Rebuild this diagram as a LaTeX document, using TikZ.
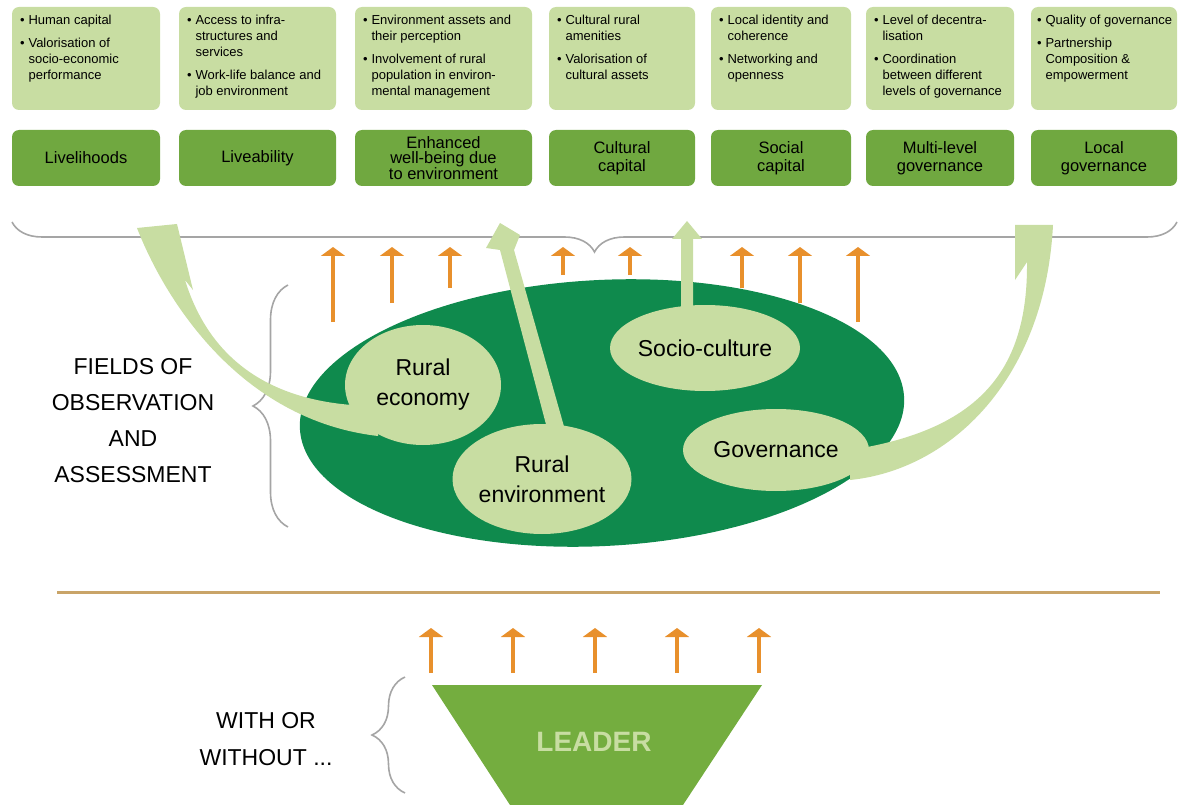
\documentclass[tikz,border=0pt]{standalone}
\usepackage{fontspec}
\setmainfont{Liberation Sans}
\usepackage{tikz}
\usetikzlibrary{arrows.meta,shapes.geometric,decorations.pathreplacing}

\definecolor{palegreen}{HTML}{C8DDA2}
\definecolor{midgreen}{HTML}{70A840}
\definecolor{darkgreen}{HTML}{0F8A4D}
\definecolor{leadergreen}{HTML}{74AD3F}
\definecolor{arroworange}{HTML}{E8902C}
\definecolor{bracegray}{HTML}{A5A5A5}
\definecolor{linetan}{HTML}{C9A468}

\newcommand{\bul}{\textbullet}

\begin{document}
\begin{tikzpicture}[x=1pt, y=-1pt,
    every node/.style={inner sep=0pt},
    topbox/.style={fill=palegreen, rounded corners=7pt, minimum height=103pt},
    pillbox/.style={fill=midgreen, rounded corners=7pt, minimum height=56pt, align=center, font=\fontsize{16.5}{18}\selectfont},
    boxtext/.style={anchor=north west, align=left, font=\fontsize{13}{16}\selectfont},
    field/.style={ellipse, fill=palegreen, align=center, font=\fontsize{23}{30}\selectfont},
    uparrow/.style={draw=arroworange, line width=4pt, -{Triangle[width=24pt,length=9pt]}},
    bigbrace/.style={draw=bracegray, line width=1.6pt, decorate, decoration={brace, amplitude=#1}},
    bigtext/.style={align=center, font=\fontsize{23}{36}\selectfont}]

    \useasboundingbox (0,0) rectangle (1189,805);

    % Upper row: the indicator boxes
    \node[topbox, minimum width=148pt] (LivelihoodsInd) at (86,58.5) {};
    \node[topbox, minimum width=157pt] (LiveabilityInd) at (257.5,58.5) {};
    \node[topbox, minimum width=177pt] (WellbeingInd) at (443.5,58.5) {};
    \node[topbox, minimum width=146pt] (CulturalInd) at (622,58.5) {};
    \node[topbox, minimum width=140pt] (SocialInd) at (781,58.5) {};
    \node[topbox, minimum width=148pt] (MultiInd) at (940,58.5) {};
    \node[topbox, minimum width=146pt] (LocalInd) at (1104,58.5) {};

    \node[boxtext] at ([shift={(8,6)}]LivelihoodsInd.north west) {\begin{tabular}{@{}l@{\hspace{4pt}}l@{}}
        \bul & Human capital\\[7pt]
        \bul & Valorisation of\\ & socio-economic\\ & performance\end{tabular}};
    \node[boxtext] at ([shift={(8,6)}]LiveabilityInd.north west) {\begin{tabular}{@{}l@{\hspace{4pt}}l@{}}
        \bul & Access to infra-\\ & structures and\\ & services\\[7pt]
        \bul & Work-life balance and\\ & job environment\end{tabular}};
    \node[boxtext] at ([shift={(8,6)}]WellbeingInd.north west) {\begin{tabular}{@{}l@{\hspace{4pt}}l@{}}
        \bul & Environment assets and\\ & their perception\\[7pt]
        \bul & Involvement of rural\\ & population in environ-\\ & mental management\end{tabular}};
    \node[boxtext] at ([shift={(8,6)}]CulturalInd.north west) {\begin{tabular}{@{}l@{\hspace{4pt}}l@{}}
        \bul & Cultural rural\\ & amenities\\[7pt]
        \bul & Valorisation of\\ & cultural assets\end{tabular}};
    \node[boxtext] at ([shift={(8,6)}]SocialInd.north west) {\begin{tabular}{@{}l@{\hspace{4pt}}l@{}}
        \bul & Local identity and\\ & coherence\\[7pt]
        \bul & Networking and\\ & openness\end{tabular}};
    \node[boxtext] at ([shift={(8,6)}]MultiInd.north west) {\begin{tabular}{@{}l@{\hspace{4pt}}l@{}}
        \bul & Level of decentra-\\ & lisation\\[7pt]
        \bul & Coordination\\ & between different\\ & levels of governance\end{tabular}};
    \node[boxtext] at ([shift={(6,6)}]LocalInd.north west) {\begin{tabular}{@{}l@{\hspace{4pt}}l@{}}
        \bul & Quality of governance\\[7pt]
        \bul & Partnership\\ & Composition \&\\ & empowerment\end{tabular}};

    % Second row: the dimensions
    \node[pillbox, minimum width=148pt] (Livelihoods) at (86,158) {Livelihoods};
    \node[pillbox, minimum width=157pt] (Liveability) at (257.5,158) {Liveability};
    \node[pillbox, minimum width=177pt, font=\fontsize{16.5}{15}\selectfont] (Wellbeing) at (443.5,158) {Enhanced\\well-being due\\to environment};
    \node[pillbox, minimum width=146pt] (Cultural) at (622,158) {Cultural\\capital};
    \node[pillbox, minimum width=140pt] (Social) at (781,158) {Social\\capital};
    \node[pillbox, minimum width=148pt] (MultiLevel) at (940,158) {Multi-level\\governance};
    \node[pillbox, minimum width=146pt] (LocalGov) at (1104,158) {Local\\governance};

    % Braces
    \draw[bigbrace=30] (1177,222) -- (12,222);
    \draw[bigbrace=35] (288,527) -- (288,285);
    \draw[bigbrace=33] (405,793) -- (405,677);

    % Fields of observation
    \node[ellipse, fill=darkgreen, minimum width=605pt, minimum height=266pt, rotate=3] (Fields) at (602,413) {};

    % Pale arrows out of the fields
    \fill[palegreen] (378,406) .. controls (290,406) and (214,374) .. (185,280) -- (193,290) -- (177,224) -- (137,228)
        .. controls (165,300) and (240,420) .. (378,436) -- cycle;
    \fill[palegreen] (548,432) -- (500,250) -- (486,248) -- (500,223) -- (520,235) -- (514,250) -- (565,430) -- cycle;
    \fill[palegreen] (681,315) -- (681,239) -- (672,239) -- (687,221) -- (702,239) -- (693,239) -- (693,315) -- cycle;
    \fill[palegreen] (850,480) .. controls (950,470) and (1045,380) .. (1053,225) -- (1015,225) -- (1015,280) -- (1027,262)
        .. controls (1028,370) and (980,430) .. (850,450) -- cycle;

    \node[field, minimum width=156pt, minimum height=120pt] (Economy) at (423,385) {Rural\\economy};
    \node[field, minimum width=170pt, minimum height=110pt] (Environment) at (542,479) {Rural\\environment};
    \node[field, minimum width=190pt, minimum height=86pt] (SocioCulture) at (705,348) {Socio-culture};
    \node[field, minimum width=186pt, minimum height=82pt] (Governance) at (776,450) {Governance};

    % Orange arrows
    \foreach \x/\yb [count=\i] in {333/322, 392/303, 450/288, 563/275, 630/275, 742/288, 800/303, 858/322} {
        \coordinate (rise\i) at (\x,\yb);
        \draw[uparrow] (rise\i) -- (\x,247);
    }
    \foreach \x [count=\i] in {431,513,595,677,759} {
        \coordinate (lift\i) at (\x,673);
        \draw[uparrow] (lift\i) -- (\x,628);
    }

    \node[bigtext] (FieldsLabel) at (133,421) {FIELDS OF\\OBSERVATION\\AND\\ASSESSMENT};

    \draw[linetan, line width=3pt] (57,592) -- (1160,592);

    % LEADER
    \fill[leadergreen] (432,685) -- (762,685) -- (683,805) -- (510,805) -- cycle;
    \node[text=palegreen, font=\bfseries\fontsize{28}{30}\selectfont] (Leader) at (594,742) {LEADER};
    \node[align=center, font=\fontsize{23}{37}\selectfont] (WithOr) at (266,739) {WITH OR\\WITHOUT ...};

\end{tikzpicture}
\end{document}
